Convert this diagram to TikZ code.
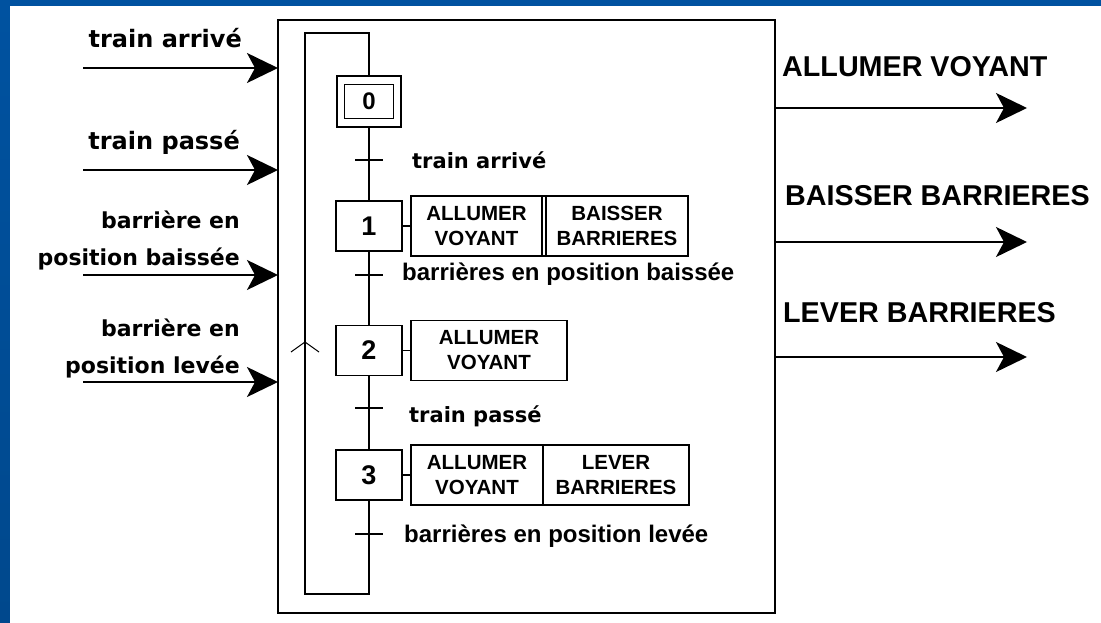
\documentclass[tikz,border=0pt]{standalone}
\usepackage{fontspec}
\setmainfont{Liberation Sans}
\newfontfamily\dejavu{DejaVu Sans}
\usetikzlibrary{positioning,calc,arrows.meta}
\definecolor{cadre}{RGB}{0,82,160}

\begin{document}
\begin{tikzpicture}[x=1pt,y=-1pt,node distance=9pt]
	\tikzstyle{trait}=[line width=1.8pt]
	\tikzstyle{etape}=[draw, line width=1.8pt, outer sep=0pt, inner sep=0pt, minimum width=66pt, minimum height=50pt, font=\fontsize{27}{27}\selectfont\bfseries];
	\tikzstyle{action}=[draw, line width=1.8pt, outer sep=0pt, inner sep=0pt, minimum height=60pt, align=center, font=\fontsize{20.5}{25}\selectfont\bfseries];
	\tikzstyle{fleche}=[line width=1.8pt, -{Stealth[length=31pt,width=30pt,inset=8pt]}];
	\tikzstyle{entree}=[anchor=base east, align=right, inner sep=0pt, font=\dejavu\fontsize{22}{37}\selectfont\bfseries];
	\tikzstyle{sortie}=[anchor=base west, inner sep=0pt, font=\fontsize{28.7}{30}\selectfont\bfseries];
	\tikzstyle{recepa}=[anchor=base west, inner sep=0pt, font=\dejavu\fontsize{21}{21}\selectfont\bfseries];
	\tikzstyle{recepb}=[anchor=base west, inner sep=0pt, font=\fontsize{24}{24}\selectfont\bfseries];

	\useasboundingbox (0,0) rectangle (1101,623);
	\shade[top color=cadre, bottom color=cadre!88!black] (0,0) rectangle (1101,623);
	\fill[white] (10,6) rectangle (1101,623);

	% boite du systeme
	\node[draw, line width=1.8pt, minimum width=497pt, minimum height=593pt, inner sep=0pt, outer sep=0pt] (boite) at (526.5,316.5) {};

	% entrees
	\node[entree, font=\dejavu\fontsize{24}{24}\selectfont\bfseries] (la) at (242,48) {train arrivé};
	\node[entree, font=\dejavu\fontsize{24}{24}\selectfont\bfseries] (lp) at (240,150) {train passé};
	\node[entree] (lb) at (240,265) {barrière en\\position baissée};
	\node[entree] (ll) at (240,373) {barrière en\\position levée};
	\coordinate (ea) at (83,68);
	\coordinate (ep) at (83,170);
	\coordinate (eb) at (83,275);
	\coordinate (el) at (83,382);
	\foreach \e in {ea,ep,eb,el}
		\draw[fleche] (\e) -- (\e -| boite.west);

	% sorties
	\node[sortie] (sva) at (782,77) {ALLUMER VOYANT};
	\node[sortie] (sba) at (785,205) {BAISSER BARRIERES};
	\node[sortie] (sle) at (783,322) {LEVER BARRIERES};
	\coordinate (sv) at (1027,108);
	\coordinate (sb) at (1027,242);
	\coordinate (sl) at (1027,357);
	\foreach \s in {sv,sb,sl}
		\draw[fleche] (boite.east |- \s) -- (\s);

	% grafcet
	\node[etape, minimum width=49pt, minimum height=34pt, font=\fontsize{24}{24}\selectfont\bfseries] (e0) at (369,101.5) {0};
	\node[etape, minimum width=64pt, minimum height=51pt] (e0o) at (e0) {};
	\node[etape] (e1) at (369,226) {1};
	\node[etape] (e2) at (369,350.5) {2};
	\node[etape] (e3) at (369,475) {3};

	\node[action, minimum width=131pt, right=of e1] (a1a) {ALLUMER\\VOYANT};
	\node[action, minimum width=142pt, right=4pt of a1a] (a1b) {BAISSER\\BARRIERES};
	\node[action, minimum width=156pt, right=of e2] (a2) {ALLUMER\\VOYANT};
	\node[action, minimum width=132pt, right=of e3] (a3a) {ALLUMER\\VOYANT};
	\node[action, minimum width=146pt, right=0pt of a3a] (a3b) {LEVER\\BARRIERES};
	\draw[trait] (a1a.north east) -- (a1b.north west);
	\draw[trait] (a1a.south east) -- (a1b.south west);

	\draw[trait] (e1.east) -- (a1a.west);
	\draw[trait] (e2.east) -- (a2.west);
	\draw[trait] (e3.east) -- (a3a.west);

	\draw[trait] (e0o.south) -- (e1.north);
	\draw[trait] (e1.south) -- (e2.north);
	\draw[trait] (e2.south) -- (e3.north);
	\coordinate (rb) at (305,594);
	\coordinate (rh) at (305,33);
	\draw[trait] (e3.south) |- (rb) -- (rh) -| (e0o.north);
	\coordinate (fl) at (305,342);
	\draw[line width=1pt] ($(fl)+(-14,10)$) -- (fl) -- ($(fl)+(14,10)$);

	% receptivites
	\coordinate (t0) at (369,160);
	\coordinate (t1) at (369,275);
	\coordinate (t2) at (369,408);
	\coordinate (t3) at (369,534);
	\foreach \t in {t0,t1,t2,t3}
		\draw[trait] ($(\t)+(-14,0)$) -- ($(\t)+(14,0)$);
	\node[recepa] (r0) at ($(t0)+(43,8)$) {train arrivé};
	\node[recepb] (r1) at ($(t1)+(33,5)$) {barrières en position baissée};
	\node[recepa] (r2) at ($(t2)+(40,14)$) {train passé};
	\node[recepb] (r3) at ($(t3)+(35,8)$) {barrières en position levée};
\end{tikzpicture}
\end{document}
